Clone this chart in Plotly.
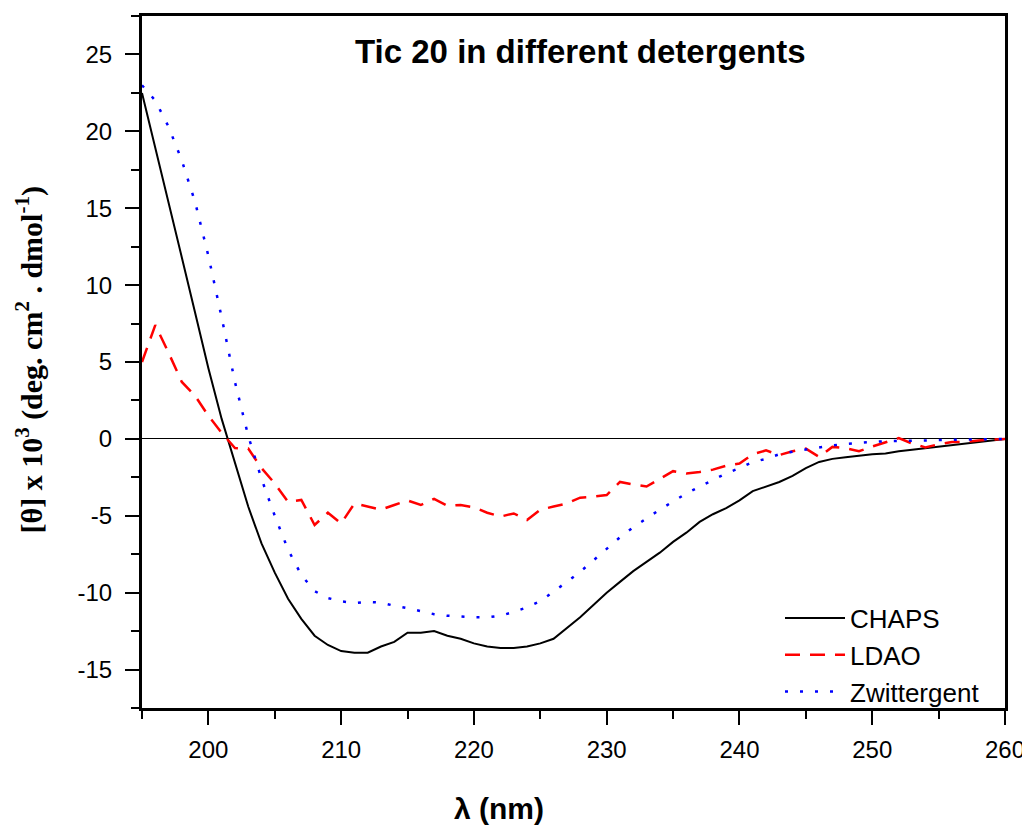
import plotly.graph_objects as go

wavelength = list(range(195, 261))

chaps = [22.5, 19.0, 15.5, 11.8, 8.2, 4.6, 1.3, -1.6, -4.4, -6.8, -8.7, -10.4, -11.7, -12.8, -13.4,
         -13.8, -13.9, -13.9, -13.5, -13.2, -12.6, -12.6, -12.5, -12.8, -13.0, -13.3, -13.5, -13.6,
         -13.6, -13.5, -13.3, -13.0, -12.3, -11.6, -10.8, -10.0, -9.3, -8.6, -8.0, -7.4, -6.7, -6.1,
         -5.4, -4.9, -4.5, -4.0, -3.4, -3.1, -2.8, -2.4, -1.9, -1.5, -1.3, -1.2, -1.1, -1.0, -0.95,
         -0.8, -0.7, -0.6, -0.5, -0.4, -0.3, -0.2, -0.1, 0.0]

ldao = [5.0, 7.4, 5.6, 3.7, 2.8, 1.5, 0.4, -0.6, -0.63, -1.9, -2.9, -4.1, -3.97, -5.6, -4.8,
        -5.5, -4.2, -4.4, -4.6, -4.3, -4.0, -4.3, -3.9, -4.35, -4.3, -4.45, -4.8, -5.05, -4.85,
        -5.27, -4.6, -4.4, -4.2, -3.82, -3.76, -3.65, -2.8, -2.96, -3.1, -2.6, -2.1, -2.25, -2.15,
        -2.0, -1.75, -1.6, -1.0, -0.75, -1.05, -0.8, -0.63, -1.17, -0.52, -0.6, -0.8, -0.5, -0.2,
        0.05, -0.3, -0.55, -0.35, -0.2, -0.2, -0.1, -0.05, 0.0]

zwitter = [23.0, 22.0, 20.3, 18.1, 15.4, 11.9, 7.9, 3.7, 0.2, -2.6, -5.0, -7.2, -8.85, -9.9, -10.35,
           -10.56, -10.67, -10.6, -10.65, -10.85, -11.0, -11.2, -11.4, -11.5, -11.55, -11.6, -11.6,
           -11.5, -11.25, -10.95, -10.55, -9.95, -9.3, -8.65, -7.9, -7.1, -6.4, -5.75, -5.17, -4.6,
           -4.07, -3.55, -3.1, -2.65, -2.25, -1.9, -1.5, -1.3, -1.0, -0.83, -0.68, -0.55, -0.42,
           -0.33, -0.25, -0.2, -0.15, -0.12, -0.1, -0.1, -0.08, -0.06, -0.05, -0.03, -0.01, 0.0]

x_ticks = [200, 210, 220, 230, 240, 250, 260]
x_tick_text = ["200", "210", "220", "230", "240", "250", "260"]
y_ticks = [-15, -10, -5, 0, 5, 10, 15, 20, 25]
y_tick_text = ["-15", "-10", "-5", "0", "5", "10", "15", "20", "25"]

# screen geometry of plot area (page body has 8px margin)
PL, PR, PT, PB = 142, 1005, 13, 708
PW, PH = PR - PL, PB - PT


def px(sx):
    return (sx - PL) / PW


def py(sy):
    return (PB - sy) / PH


fig = go.Figure()
fig.add_trace(go.Scatter(x=wavelength, y=chaps, mode="lines", name="CHAPS",
                         line=dict(color="black", width=2)))
fig.add_trace(go.Scatter(x=wavelength, y=ldao, mode="lines", name="LDAO",
                         line=dict(color="#ff0000", width=2.5, dash="15px,10px")))
fig.add_trace(go.Scatter(x=wavelength, y=zwitter, mode="lines", name="Zwittergent",
                         line=dict(color="#0000ff", width=2.5, dash="3px,12px")))

fig.update_layout(
    width=1030, height=827,
    margin=dict(l=PL - 8, r=1030 + 8 - PR, t=PT - 8, b=827 + 8 - PB),
    paper_bgcolor="white", plot_bgcolor="white",
    font=dict(family="Liberation Sans, Arial", color="black", size=24),
    showlegend=True,
    legend=dict(x=px(780), y=py(594), xanchor="left", yanchor="top",
                bgcolor="rgba(0,0,0,0)", borderwidth=0,
                font=dict(size=26, family="Liberation Sans, Arial"),
                tracegroupgap=0, itemwidth=60),
)
fig.update_xaxes(range=[195, 260], tickvals=x_ticks, ticktext=x_tick_text, ticks="outside",
                 ticklen=14, tickwidth=2, tickcolor="black", ticklabelstandoff=4,
                 showline=True, linecolor="black", linewidth=3, mirror=True, showgrid=False,
                 zeroline=False, tickfont=dict(size=24),
                 minor=dict(dtick=5, tick0=195, ticks="outside", ticklen=8, tickwidth=2, tickcolor="black"))
fig.update_yaxes(range=[-17.5, 27.5], tickvals=y_ticks, ticktext=y_tick_text, ticks="outside",
                 ticklen=14, tickwidth=2, tickcolor="black", ticklabelstandoff=8,
                 showline=True, linecolor="black", linewidth=3, mirror=True, showgrid=False,
                 zeroline=True, zerolinecolor="black", zerolinewidth=1, tickfont=dict(size=24),
                 minor=dict(dtick=2.5, tick0=0, ticks="outside", ticklen=8, tickwidth=2, tickcolor="black"))

fig.add_annotation(text="<b>Tic 20 in different detergents</b>", xref="paper", yref="paper",
                   x=px(580), y=py(49), xanchor="center", yanchor="middle",
                   showarrow=False, font=dict(size=33, family="Liberation Sans, Arial"))
fig.add_annotation(text="<b>[θ] x 10<sup>3</sup> (deg. cm<sup>2</sup> . dmol<sup>-1</sup>)</b>",
                   xref="paper", yref="paper", x=px(30), y=py(359),
                   xanchor="center", yanchor="middle", textangle=-90, showarrow=False,
                   font=dict(size=30, family="Liberation Serif, Times New Roman"))
fig.add_annotation(text="<b>λ (nm)</b>", xref="paper", yref="paper",
                   x=px(499), y=py(809), xanchor="center", yanchor="middle",
                   showarrow=False, font=dict(size=30, family="Liberation Sans, Arial"))

fig.write_html("out.html")
